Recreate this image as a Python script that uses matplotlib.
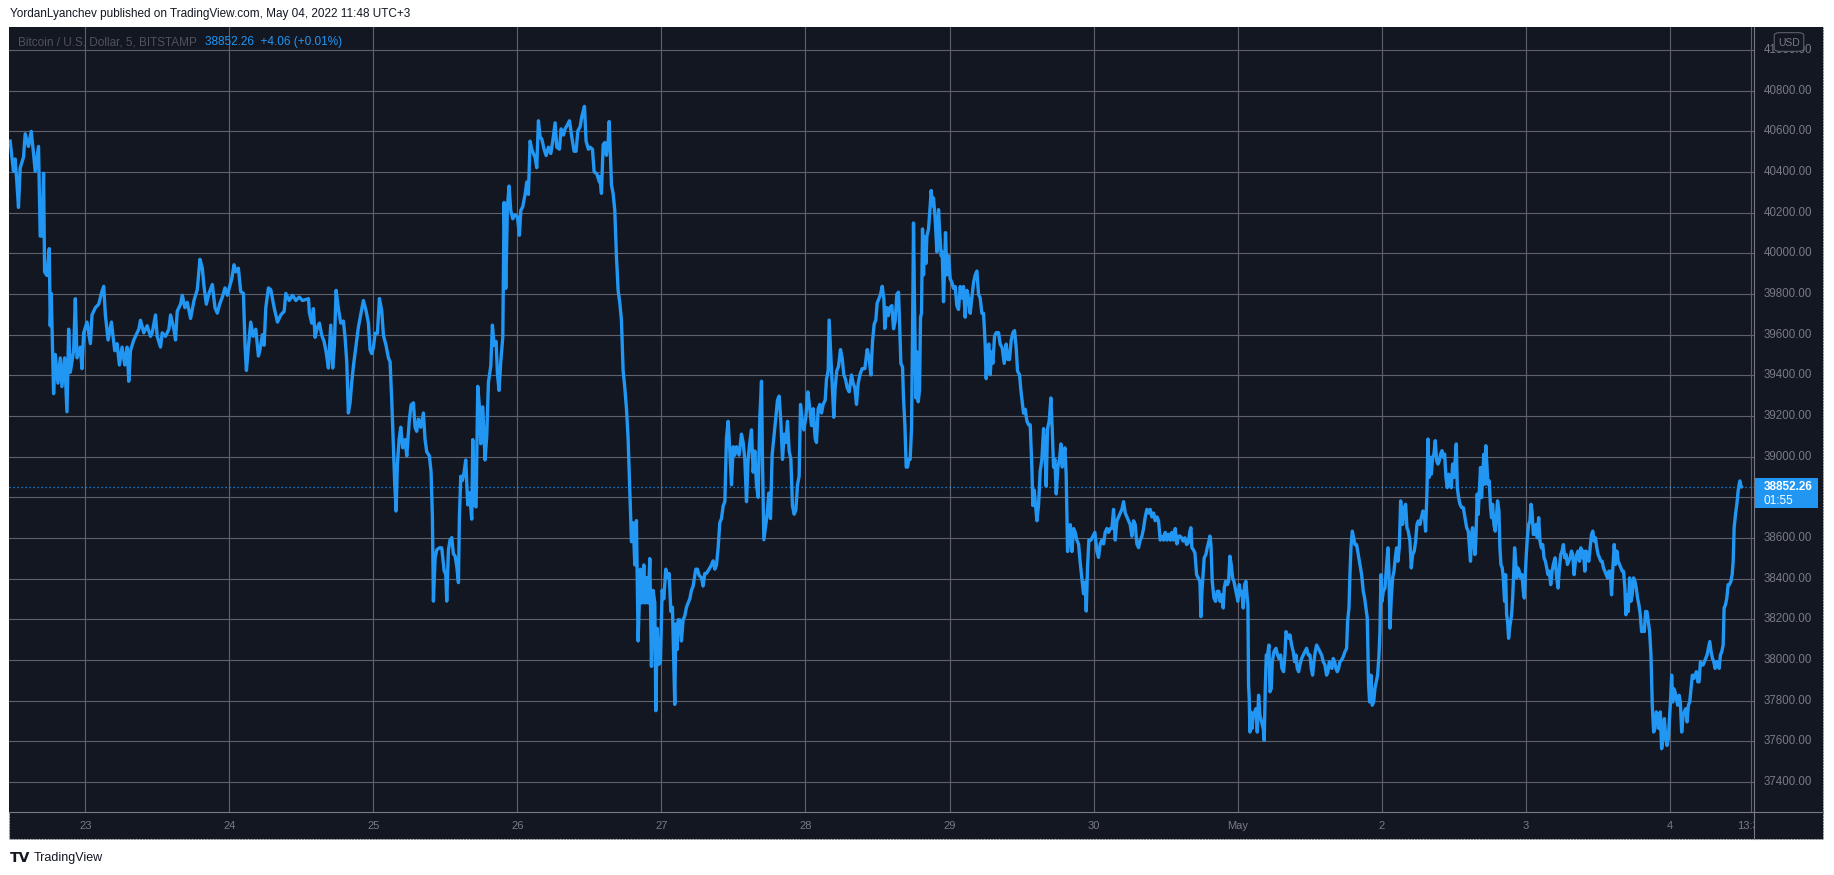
import matplotlib
matplotlib.use('Agg')
import matplotlib.pyplot as plt
from matplotlib.patches import Rectangle, FancyBboxPatch
from matplotlib.lines import Line2D

plt.rcParams['font.family'] = ['Liberation Sans', 'DejaVu Sans']

# BTC/USD 5 min, Bitstamp. hours counted from Apr 23 00:00 (UTC+3)
hours = [
    -12.53, -11.97, -11.69, -11.41, -11.14, -10.86, -10.30, -10.02, -9.47, -9.02,
    -8.63, -8.35, -7.80, -7.52, -7.24, -6.96, -6.79, -6.40, -6.01, -5.85,
    -5.68, -5.46, -5.29, -5.01, -4.57, -4.18, -3.90, -3.45, -3.06, -2.78,
    -2.51, -1.95, -1.67, -1.39, -0.84, -0.56, -0.28, 0.28, 0.84, 1.11,
    1.67, 2.23, 2.67, 3.06, 3.34, 3.79, 4.34, 4.90, 5.29, 5.68,
    6.12, 6.57, 6.96, 7.24, 7.52, 8.07, 8.91, 9.19, 9.74, 10.30,
    10.86, 11.14, 11.69, 11.97, 12.53, 12.81, 13.36, 13.92, 14.20, 14.76,
    15.03, 15.31, 15.87, 16.15, 16.59, 16.98, 17.54, 18.10, 18.65, 19.10,
    19.49, 19.77, 20.16, 20.60, 21.16, 21.60, 21.99, 22.38, 22.83, 23.27,
    23.66, 24.05, 24.39, 24.78, 25.06, 25.50, 25.89, 26.34, 26.62, 26.84,
    27.17, 27.56, 27.95, 28.40, 28.84, 29.07, 29.51, 29.79, 30.07, 30.51,
    30.90, 31.46, 32.02, 32.57, 33.13, 33.41, 33.97, 34.52, 35.08, 35.64,
    36.19, 37.19,
    37.33, 37.72, 38.00, 38.28, 38.67, 39.00, 39.39, 39.78, 40.11, 40.50,
    40.89, 41.22, 41.50, 41.78, 42.17, 42.56, 43.00, 43.28, 43.56, 43.83,
    44.11, 44.39, 44.67, 45.11, 45.50, 45.94, 46.33, 46.78, 47.17, 47.44,
    47.72, 48.00, 48.28, 48.67, 49.00, 49.39, 49.67, 50.11, 50.50, 50.78,
    51.06, 51.33, 51.56, 51.78, 52.00, 52.28, 52.56, 52.89, 53.28, 53.56,
    54.00, 54.28, 54.67, 54.94, 55.22, 55.50, 55.89, 56.33, 56.61, 56.89,
    57.33, 57.61, 57.83, 58.00, 58.28, 58.56, 59.00, 59.39, 59.78, 60.06,
    60.22, 60.50, 60.78, 61.06, 61.33, 61.61, 61.89, 62.17, 62.33, 62.56,
    62.83, 63.11, 63.39, 63.72, 64.00, 64.39, 64.56, 64.78, 65.11, 65.39,
    65.67, 65.89, 66.22, 66.61, 66.89, 67.17, 67.56, 67.83, 68.11, 68.44,
    68.67, 68.94, 69.22, 69.56, 69.78, 70.06, 70.33, 70.61, 70.89, 71.22,
    71.61, 72.00, 72.33, 72.56, 72.89, 73.28, 73.56, 73.83, 74.11, 74.39,
    74.67, 74.94, 75.22, 75.50, 75.78, 76.06, 76.44, 76.78, 77.17, 77.56,
    77.89, 78.28, 78.56, 79.00, 79.28, 79.67, 79.94, 80.33, 80.67, 81.06,
    81.44, 81.78, 82.06, 82.44, 82.72, 83.17, 83.44, 83.83, 84.11, 84.50,
    84.78, 85.22, 85.67,
    85.72, 86.00, 86.28, 86.56, 86.83, 87.11, 87.28, 87.50, 87.67, 87.94,
    88.22, 88.50, 88.78, 89.06, 89.33, 89.61, 89.89, 90.17, 90.44, 90.72,
    91.00, 91.28, 91.56, 91.83, 92.11, 92.28, 92.50, 92.78, 93.06, 93.28,
    93.50, 93.78, 94.06, 94.33, 94.61, 94.89, 95.06, 95.28, 95.56, 95.83,
    96.11, 96.39, 96.72, 97.00, 97.28, 97.56, 97.83, 98.06, 98.22, 98.39,
    98.61, 98.78, 99.06, 99.33, 99.61, 99.89, 100.17, 100.44, 100.72, 101.00,
    101.28, 101.72, 102.00, 102.28, 102.67, 102.94, 103.22, 103.50, 103.94, 104.33,
    104.61, 104.89, 105.17, 105.44, 105.72, 106.00, 106.28, 106.56, 106.83, 107.11,
    107.39, 107.67, 107.94, 108.22, 108.50, 108.94, 109.33, 109.61, 109.89, 110.17,
    110.44, 110.72, 111.00, 111.28, 111.56, 111.83, 112.11, 112.39, 112.67, 112.83,
    113.06, 113.33, 113.61, 113.89, 114.17, 114.44, 114.72, 115.06, 115.33, 115.61,
    115.89, 116.17, 116.44, 116.72, 117.00, 117.28, 117.56, 117.83, 118.11, 118.39,
    118.67, 118.94, 119.17, 119.39, 119.72, 120.06, 120.39, 120.72, 121.00, 121.28,
    121.61, 121.83, 122.11, 122.39, 122.67, 122.94, 123.28, 123.50, 123.78, 123.94,
    124.17, 124.44, 124.72, 124.94, 125.22, 125.50, 125.83, 126.11, 126.39, 126.67,
    126.94, 127.28, 127.67, 127.94, 128.22, 128.50, 128.78, 129.06, 129.44, 129.89,
    130.28, 130.61, 130.89, 131.17, 131.44, 131.72, 131.94, 132.22, 132.50, 132.78,
    133.06, 133.22, 133.50, 133.78, 134.06,
    134.39, 134.67, 134.94, 135.22, 135.50, 135.67, 135.89, 136.17, 136.33, 136.56,
    136.78, 137.00, 137.22, 137.44, 137.67, 137.83, 138.00, 138.17, 138.39, 138.56,
    138.78, 139.00, 139.17, 139.33, 139.50, 139.67, 139.83, 140.06, 140.22, 140.50,
    140.78, 140.94, 141.17, 141.33, 141.61, 141.89, 142.17, 142.33, 142.61, 142.78,
    143.00, 143.17, 143.33, 143.56, 143.83, 144.11, 144.39, 144.67, 144.94, 145.22,
    145.50, 145.78, 146.06, 146.33, 146.61, 146.89, 147.17, 147.44, 147.72, 148.00,
    148.28, 148.56, 148.83, 149.11, 149.39, 149.67, 149.94, 150.11, 150.33, 150.56,
    150.78, 151.00, 151.22, 151.50, 151.78, 152.17, 152.44, 152.78, 153.11, 153.44,
    153.72, 154.00, 154.28, 154.56, 154.83, 155.11, 155.33, 155.67, 155.89, 156.11,
    156.33, 156.61, 156.89, 157.17, 157.44, 157.72, 157.89, 158.11, 158.33, 158.56,
    158.83, 159.11, 159.39, 159.67, 159.89, 160.11, 160.33, 160.61, 160.89, 161.11,
    161.33, 161.56, 161.78, 162.06, 162.33, 162.56, 162.78, 163.00, 163.22, 163.44,
    163.67, 163.89, 164.11, 164.39, 164.67, 164.94, 165.22, 165.50, 165.78, 166.06,
    166.33, 166.61, 166.78, 167.00, 167.22, 167.56, 167.89, 168.22, 168.56, 168.83,
    169.11, 169.39, 169.67, 169.94, 170.22, 170.50, 170.78, 171.06, 171.33, 171.61,
    171.89, 172.17, 172.44, 172.72, 173.00, 173.28, 173.56, 173.83, 174.11, 174.39,
    174.67, 174.94, 175.22, 175.50, 175.78, 176.06, 176.33, 176.61, 176.89, 177.17,
    177.44, 177.72, 178.00, 178.28, 178.56, 178.83, 179.11, 179.39, 179.67, 179.94,
    180.22, 180.50, 180.78, 181.06, 181.33, 181.61, 181.89, 182.17,
    182.39, 182.67, 182.94, 183.22, 183.50, 183.78, 184.06, 184.22, 184.39, 184.61,
    184.89, 185.17, 185.44, 185.72, 185.89, 186.06, 186.28, 186.44, 186.72, 186.94,
    187.22, 187.39, 187.56, 187.78, 188.06, 188.33, 188.61, 188.89, 189.06, 189.33,
    189.61, 189.78, 190.00, 190.28, 190.50, 190.72, 190.94, 191.17, 191.39, 191.61,
    191.83, 192.06, 192.28, 192.50, 192.72, 192.94, 193.17, 193.39, 193.56, 193.72,
    193.83, 193.94, 194.06, 194.22, 194.39, 194.61, 194.83, 195.06, 195.28, 195.50,
    195.72, 196.00, 196.28, 196.44, 196.61, 196.78, 197.00, 197.22, 197.39, 197.61,
    197.78, 198.06, 198.39, 198.67, 198.89, 199.17, 199.39, 199.67, 199.89, 200.06,
    200.28, 200.50, 200.72, 201.00, 201.28, 201.50, 201.72, 201.94, 202.17, 202.39,
    202.67, 202.94, 203.22, 203.50, 203.78, 204.06, 204.28, 204.50, 204.72, 204.94,
    205.17, 205.44, 205.72, 206.00, 206.28, 206.56, 206.83, 207.06, 207.28, 207.50,
    207.72, 207.94, 208.17, 208.39, 208.61, 208.83, 209.06, 209.33, 209.61, 209.89,
    210.17, 210.33, 210.56, 210.72, 210.89, 211.11, 211.33, 211.56, 211.83, 212.11,
    212.39, 212.67, 212.94, 213.17, 213.39, 213.61, 213.83, 214.00, 214.22, 214.44,
    214.67, 214.89, 215.11, 215.33, 215.56, 215.72, 215.89, 216.06, 216.28, 216.56,
    216.83, 217.06, 217.22, 217.39, 217.61, 217.83, 218.06, 218.28, 218.50, 218.72,
    218.94, 219.17, 219.33, 219.50, 219.78, 220.00, 220.22, 220.44, 220.72, 220.94,
    221.17, 221.44, 221.67, 221.89, 222.11, 222.39, 222.61, 222.89, 223.11, 223.33,
    223.56, 223.72, 223.89, 224.06, 224.28, 224.50, 224.72, 224.94, 225.17, 225.39,
    225.61, 225.83, 226.06, 226.28, 226.50, 226.72, 226.94, 227.17, 227.39, 227.61,
    227.83, 228.06, 228.28, 228.44, 228.61, 228.83, 229.06, 229.33, 229.61, 229.89,
    230.17, 230.44, 230.72,
    230.81, 230.98, 231.15, 231.37, 231.54, 231.70, 231.93, 232.09, 232.26, 232.48,
    232.65, 232.82, 233.04, 233.21, 233.37, 233.54, 233.71, 233.93, 234.15, 234.32,
    234.49, 234.71, 234.93, 235.16, 235.32, 235.55, 235.71, 235.88, 236.10, 236.27,
    236.49, 236.66, 236.83, 236.99, 237.16, 237.33, 237.49, 237.66, 237.83, 238.00,
    238.16, 238.33, 238.50, 238.72, 238.94, 239.16, 239.39, 239.61, 239.78, 239.94,
    240.11, 240.28, 240.50, 240.72, 240.89, 241.06, 241.28, 241.50, 241.73, 241.95,
    242.17, 242.39, 242.62, 242.84, 243.06, 243.29, 243.51, 243.73, 243.95, 244.18,
    244.40, 244.62, 244.90, 245.18, 245.40, 245.62, 245.85, 246.07, 246.29, 246.51,
    246.74, 246.96, 247.18, 247.41, 247.63, 247.85, 248.07, 248.30, 248.52, 248.74,
    248.96, 249.19, 249.41, 249.63, 249.86, 250.08, 250.30, 250.52, 250.75, 250.97,
    251.19, 251.41, 251.64, 251.86, 252.08, 252.31, 252.53, 252.75, 252.97, 253.20,
    253.42, 253.64, 253.86, 254.09, 254.31, 254.53, 254.76, 254.98, 255.20, 255.42,
    255.65, 255.87, 256.09, 256.31, 256.54, 256.70, 256.87, 257.09, 257.32, 257.54,
    257.76, 257.98, 258.21, 258.43, 258.65, 258.87, 259.10, 259.32, 259.54, 259.77,
    259.99, 260.21, 260.43, 260.66, 260.88, 260.99, 261.10, 261.33, 261.55, 261.77,
    261.99, 262.22, 262.44, 262.66, 262.88, 263.11, 263.33, 263.55, 263.77, 264.00,
    264.16, 264.33, 264.50, 264.67, 264.89, 265.11, 265.33, 265.56, 265.78, 266.00,
    266.23, 266.45, 266.67, 266.89, 267.12, 267.34, 267.56, 267.78, 268.01, 268.23,
    268.45, 268.68, 268.90, 269.12, 269.34, 269.57, 269.79, 270.01, 270.23, 270.46,
    270.68, 270.90, 271.13, 271.35, 271.57, 271.79, 272.02, 272.24, 272.46, 272.68,
    272.91, 273.07, 273.30, 273.52, 273.74, 273.96, 274.19, 274.41, 274.58, 274.74,
    274.97, 275.19, 275.41, 275.58, 275.69, 275.86, 275.97,
]

price = [
    40552, 40403, 40464, 40350, 40226, 40420, 40473, 40588, 40526, 40600,
    40491, 40403, 40526, 40085, 40085, 40394, 39909, 39891, 40023, 39644,
    39803, 39521, 39310, 39503, 39362, 39486, 39345, 39486, 39221, 39627,
    39415, 39521, 39777, 39486, 39539, 39433, 39609, 39662, 39556, 39697,
    39733, 39750, 39803, 39838, 39697, 39574, 39662, 39521, 39556, 39451,
    39539, 39451, 39539, 39371, 39521, 39574, 39627, 39671, 39609, 39644,
    39592, 39609, 39697, 39592, 39539, 39609, 39592, 39627, 39697, 39627,
    39574, 39715, 39750, 39794, 39733, 39759, 39680, 39768, 39821, 39971,
    39927, 39838, 39750, 39803, 39847, 39733, 39706, 39750, 39785, 39830,
    39794, 39838, 39874, 39944, 39909, 39927, 39812, 39803, 39539, 39424,
    39539, 39662, 39592, 39627, 39495, 39521, 39600, 39548, 39733, 39830,
    39821, 39733, 39662, 39697, 39715, 39803, 39768, 39794, 39768, 39785,
    39768, 39777,
    39708, 39657, 39728, 39587, 39637, 39657, 39597, 39567, 39517, 39436,
    39647, 39436, 39547, 39818, 39728, 39657, 39667, 39587, 39466, 39215,
    39265, 39366, 39446, 39547, 39637, 39708, 39768, 39718, 39657, 39527,
    39507, 39537, 39607, 39607, 39778, 39718, 39597, 39547, 39486, 39466,
    39275, 39044, 38863, 38733, 38964, 39084, 39145, 39044, 39084, 39004,
    39185, 39255, 39265, 39145, 39125, 39185, 39145, 39215, 39084, 39024,
    39004, 38924, 38703, 38290, 38502, 38542, 38552, 38552, 38441, 38421,
    38290, 38542, 38592, 38602, 38522, 38512, 38461, 38381, 38703, 38904,
    38883, 38924, 38984, 38763, 38823, 38693, 39084, 38763, 38753, 39346,
    39245, 39064, 39245, 38984, 39104, 39366, 39446, 39647, 39547, 39567,
    39406, 39326, 39466, 39587, 40250, 39828, 40230, 40331, 40210, 40170,
    40190, 40180, 40089, 40210, 40230, 40290, 40351, 40290, 40552, 40512,
    40491, 40471, 40421, 40652, 40572, 40562, 40512, 40481, 40522, 40491,
    40552, 40642, 40522, 40512, 40612, 40582, 40612, 40632, 40652, 40572,
    40502, 40502, 40602, 40622, 40672, 40723, 40552, 40512, 40522, 40512,
    40401, 40391, 40351,
    40378, 40295, 40534, 40545, 40482, 40545, 40648, 40482, 40337, 40295,
    40212, 39984, 39818, 39755, 39672, 39423, 39340, 39236, 39091, 38841,
    38582, 38675, 38468, 38686, 38094, 38260, 38447, 38281, 38468, 38281,
    38405, 38281, 38499, 37969, 38343, 38281, 37751, 38156, 37979, 37990,
    38343, 38301, 38447, 38405, 38426, 38239, 38260, 37990, 37782, 38177,
    38052, 38198, 38198, 38094, 38198, 38218, 38260, 38281, 38301, 38343,
    38364, 38447, 38447, 38416, 38405, 38364, 38426, 38426, 38447, 38468,
    38488, 38447, 38468, 38551, 38675, 38696, 38758, 38779, 39091, 39174,
    39028, 38862, 39049, 39008, 39049, 39008, 39111, 39070, 38987, 38779,
    38987, 39070, 39132, 38924, 39028, 38862, 38800, 39194, 39371, 38987,
    38592, 38654, 38717, 38821, 38696, 39008, 39091, 39194, 39278, 39298,
    39174, 38987, 39111, 39070, 39174, 39028, 38987, 38758, 38717, 38738,
    38862, 38904, 39257, 39194, 39132, 39194, 39319, 39236, 39153, 39236,
    39091, 39070, 39236, 39257, 39215, 39257, 39278, 39381, 39423, 39672,
    39527, 39361, 39194, 39340, 39423, 39444, 39527, 39485, 39402, 39381,
    39340, 39319, 39402, 39361, 39340, 39257, 39361, 39402, 39433, 39433,
    39527, 39485, 39402, 39568, 39651, 39672, 39755, 39776, 39797, 39838,
    39776, 39631, 39734, 39693, 39734,
    39743, 39629, 39667, 39799, 39809, 39667, 39459, 39440, 39289, 39157,
    38949, 38949, 38987, 38987, 39138, 39592, 40149, 39743, 39289, 39516,
    39270, 39327, 39686, 39705, 40120, 39894, 40083, 39950, 40083, 40120,
    40234, 40309, 40234, 40272, 40168, 40007, 40215, 40120, 39988, 40007,
    39762, 39913, 40102, 39894, 39988, 39875, 39856, 39828, 39837, 39743,
    39724, 39837, 39780, 39837, 39686, 39818, 39780, 39705, 39780, 39856,
    39894, 39913, 39799, 39780, 39705, 39705, 39554, 39384, 39535, 39554,
    39403, 39516, 39459, 39592, 39610, 39610, 39554, 39535, 39459, 39554,
    39478, 39478, 39573, 39610, 39620, 39535, 39421, 39403, 39327, 39270,
    39214, 39233, 39176, 39157, 39157, 38949, 38760, 38836, 38760, 38685,
    38760, 38930, 38987, 39138, 39044, 38855, 39138, 39176, 39289, 39138,
    38949, 38987, 38817, 38949, 38987, 39063, 38949, 38987, 39044, 38911,
    38534, 38609, 38666, 38534, 38647, 38628, 38590, 38571, 38477, 38401,
    38326, 38383, 38241, 38458, 38590, 38590, 38609, 38628, 38534, 38505,
    38571, 38590, 38571, 38628, 38647, 38628, 38647, 38647, 38741, 38590,
    38685, 38704, 38723, 38741, 38779, 38723, 38704, 38685, 38666, 38609,
    38685, 38666, 38571, 38553, 38590, 38609, 38647, 38704, 38741, 38723,
    38741, 38704, 38723, 38685, 38704, 38685, 38590, 38609, 38590, 38628,
    38590, 38619, 38590, 38628, 38590, 38647, 38571, 38609,
    38610, 38601, 38585, 38601, 38568, 38577, 38634, 38651, 38552, 38544,
    38527, 38420, 38404, 38387, 38214, 38338, 38437, 38503, 38519, 38552,
    38585, 38610, 38568, 38387, 38305, 38289, 38338, 38338, 38289, 38321,
    38256, 38354, 38387, 38371, 38387, 38511, 38470, 38404, 38387, 38354,
    38321, 38289, 38371, 38321, 38338, 38256, 38371, 38387, 38321, 38272,
    37877, 37811, 37646, 37745, 37663, 37729, 37745, 37761, 37646, 37827,
    37729, 37696, 37663, 37605, 37860, 38025, 38025, 38074, 37844, 37860,
    37992, 38041, 38058, 38025, 38008, 38025, 37959, 37943, 38025, 38140,
    38124, 38107, 38124, 38074, 38041, 37992, 38025, 37959, 37943, 37976,
    38008, 38025, 38041, 38058, 38025, 38025, 37959, 37926, 37992, 38041,
    38074, 38058, 38041, 38025, 37992, 37976, 37926, 37943, 37992, 37976,
    37959, 38008, 37992, 37959, 37943, 37959, 37992, 38000, 38017, 38041,
    38058, 38190, 38256, 38420, 38552, 38634, 38601, 38568, 38568, 38519,
    38470, 38420, 38338, 38305, 38256, 38206, 37877, 37794, 37926, 37778,
    37794, 37860, 37893, 37926, 38025, 38140, 38420, 38289, 38338, 38354,
    38470, 38552, 38437, 38157, 38305, 38404, 38437, 38503, 38552, 38486,
    38552, 38783, 38717, 38667, 38750, 38766, 38651, 38634, 38585, 38453,
    38519, 38536, 38585, 38667, 38684, 38667, 38700, 38733, 38717, 38634,
    38832, 39087, 38898, 38997, 38914, 38997, 39013, 39079, 38980, 38964,
    38980, 39013, 39030, 38997, 39013, 38898, 38848, 38914, 38865, 38848,
    38964, 38898, 38997, 39063, 38848, 38799, 38766, 38750, 38750, 38700,
    38651, 38634, 38519,
    38486, 38618, 38651, 38585, 38519, 38585, 38816, 38717, 38816, 38947,
    38799, 38898, 39013, 38865, 39054, 38964, 38865, 38881, 38750, 38700,
    38766, 38667, 38634, 38717, 38783, 38733, 38552, 38470, 38453, 38404,
    38289, 38420, 38223, 38190, 38107, 38157, 38190, 38223, 38305, 38420,
    38552, 38486, 38404, 38453, 38437, 38404, 38420, 38338, 38305, 38420,
    38519, 38601, 38667, 38684, 38766, 38733, 38618, 38618, 38667, 38601,
    38700, 38585, 38552, 38568, 38503, 38486, 38453, 38420, 38437, 38371,
    38437, 38470, 38503, 38404, 38354, 38453, 38519, 38536, 38568, 38503,
    38519, 38470, 38486, 38503, 38536, 38519, 38420, 38486, 38519, 38536,
    38486, 38552, 38503, 38536, 38437, 38536, 38519, 38486, 38552, 38618,
    38634, 38585, 38601, 38552, 38519, 38503, 38486, 38486, 38453, 38437,
    38420, 38404, 38437, 38437, 38321, 38453, 38568, 38470, 38536, 38486,
    38470, 38453, 38437, 38437, 38354, 38223, 38321, 38239, 38404, 38289,
    38321, 38404, 38387, 38354, 38305, 38272, 38223, 38140, 38157, 38140,
    38239, 38239, 38190, 38140, 38025, 37910, 37778, 37646, 37663, 37745,
    37729, 37663, 37745, 37564, 37613, 37712, 37630, 37580, 37613, 37729,
    37811, 37926, 37794, 37860, 37844, 37811, 37778, 37827, 37794, 37646,
    37729, 37745, 37761, 37696, 37778, 37794, 37860, 37926, 37910, 37926,
    37943, 37893, 37893, 37992, 37976, 37976, 37992, 38008, 38025, 38058,
    38091, 38041, 38008, 37992, 37959, 37992, 37992, 37959, 38025, 38041,
    38074, 38256, 38272, 38305, 38371, 38371, 38387, 38420, 38486, 38651,
    38717, 38766, 38832, 38865, 38881, 38857, 38852.26,
]

day_ticks = [0, 24, 48, 72, 96, 120, 144, 168, 192, 216, 240, 264, 277.5]
day_labels = ['23', '24', '25', '26', '27', '28', '29', '30', 'May', '2', '3', '4', '13:30']
price_ticks = list(range(37400, 41001, 200))
last_price = 38852.26
last_change = '+4.06 (+0.01%)'
countdown = '01:55'

bg = '#131722'
grid_c = '#5f626d'
txt_c = '#787b86'
blue = '#2196f3'

W, H = 1834, 875
fig = plt.figure(figsize=(W / 100, H / 100), dpi=100)
fig.patch.set_facecolor('white')


def fx(px):
    return px / W


def fy(py):
    return 1 - py / H


# chart frame
fig.patches.append(Rectangle((fx(9), fy(839)), fx(1823) - fx(9), fy(27) - fy(839),
                             transform=fig.transFigure, facecolor=bg,
                             edgecolor='#c8c8c8', lw=0.8, ls=':', zorder=-5))

ax = fig.add_axes([fx(9), fy(812), fx(1754) - fx(9), fy(27) - fy(812)])
ax.set_facecolor(bg)
ax.plot(hours, price, color=blue, lw=2.4, solid_joinstyle='round', zorder=3)
ax.axhline(last_price, color=blue, lw=0.9, ls=(0, (1, 2.2)), zorder=2)

ax.set_xlim(-12.72, 278.05)
ax.set_ylim(37253, 41113)
ax.set_xticks(day_ticks)
ax.set_xticklabels(day_labels)
ax.set_yticks(price_ticks)
ax.tick_params(axis='x', length=0, pad=6.5, labelsize=8, labelcolor=txt_c)
ax.tick_params(axis='y', length=0, labelleft=False)
ax.grid(color=grid_c, lw=0.8)
ax.set_axisbelow(True)
for s in ax.spines.values():
    s.set_visible(False)

# price scale pane on the right
y0, y1 = ax.get_ylim()
per_px = (y1 - y0) / 785
pax = fig.add_axes([fx(1754), fy(839), fx(1823) - fx(1754), fy(27) - fy(839)])
pax.set_facecolor(bg)
pax.set_ylim(y0 - 27 * per_px, y1)
pax.set_xlim(0, 1)
pax.set_xticks([])
pax.set_yticks([])
for s in pax.spines.values():
    s.set_visible(False)
tag_half = 15 * per_px
for p in price_ticks:
    if abs(p - last_price) < tag_half + 4 * per_px:
        continue  # hidden under the last price tag
    pax.text(10 / 69, p, f'{p:.2f}', color=txt_c, fontsize=8.3, va='center', ha='left')

# USD badge
fig.patches.append(FancyBboxPatch((fx(1777), fy(50)), fx(1801) - fx(1777), fy(34) - fy(50),
                                  boxstyle='round,pad=0.0015,rounding_size=0.003',
                                  transform=fig.transFigure, facecolor=bg,
                                  edgecolor='#5d606b', lw=0.8, zorder=4))
fig.text(fx(1789), fy(42.5), 'USD', color=txt_c, fontsize=7.5, ha='center', va='center', zorder=5)

# last price tag
fig.patches.append(Rectangle((fx(1754), fy(508)), fx(1818) - fx(1754), fy(478) - fy(508),
                             transform=fig.transFigure, facecolor=blue, edgecolor='none', zorder=4))
fig.text(fx(1764), fy(486.5), f'{last_price:.2f}', color='white', fontsize=8.5,
         fontweight='bold', va='center', zorder=5)
fig.text(fx(1764), fy(501), countdown, color='white', fontsize=8.5, va='center', zorder=5)

# pane separators
fig.lines.append(Line2D([fx(9), fx(1823)], [fy(812), fy(812)], transform=fig.transFigure,
                        color='#787b86', lw=0.8, zorder=6))
fig.lines.append(Line2D([fx(1754), fx(1754)], [fy(27), fy(839)], transform=fig.transFigure,
                        color='#787b86', lw=0.8, zorder=6))

# texts
fig.text(fx(10), fy(14.5), 'YordanLyanchev published on TradingView.com, May 04, 2022 11:48 UTC+3',
         color='#131722', fontsize=8.5, va='center')
fig.text(fx(18), fy(42.5), 'Bitcoin / U.S. Dollar, 5, BITSTAMP', color='#50535e',
         fontsize=8.5, va='center')
fig.text(fx(205), fy(42.5), f'{last_price:.2f}  {last_change}', color=blue,
         fontsize=8.5, va='center')
fig.text(fx(10), fy(857.5), 'TV', color='#131722', fontsize=10, fontweight='heavy',
         va='center', family='DejaVu Sans')
fig.text(fx(34), fy(857.5), 'TradingView', color='#131722', fontsize=9, va='center')

fig.savefig('out.png', dpi=100, facecolor='white')
